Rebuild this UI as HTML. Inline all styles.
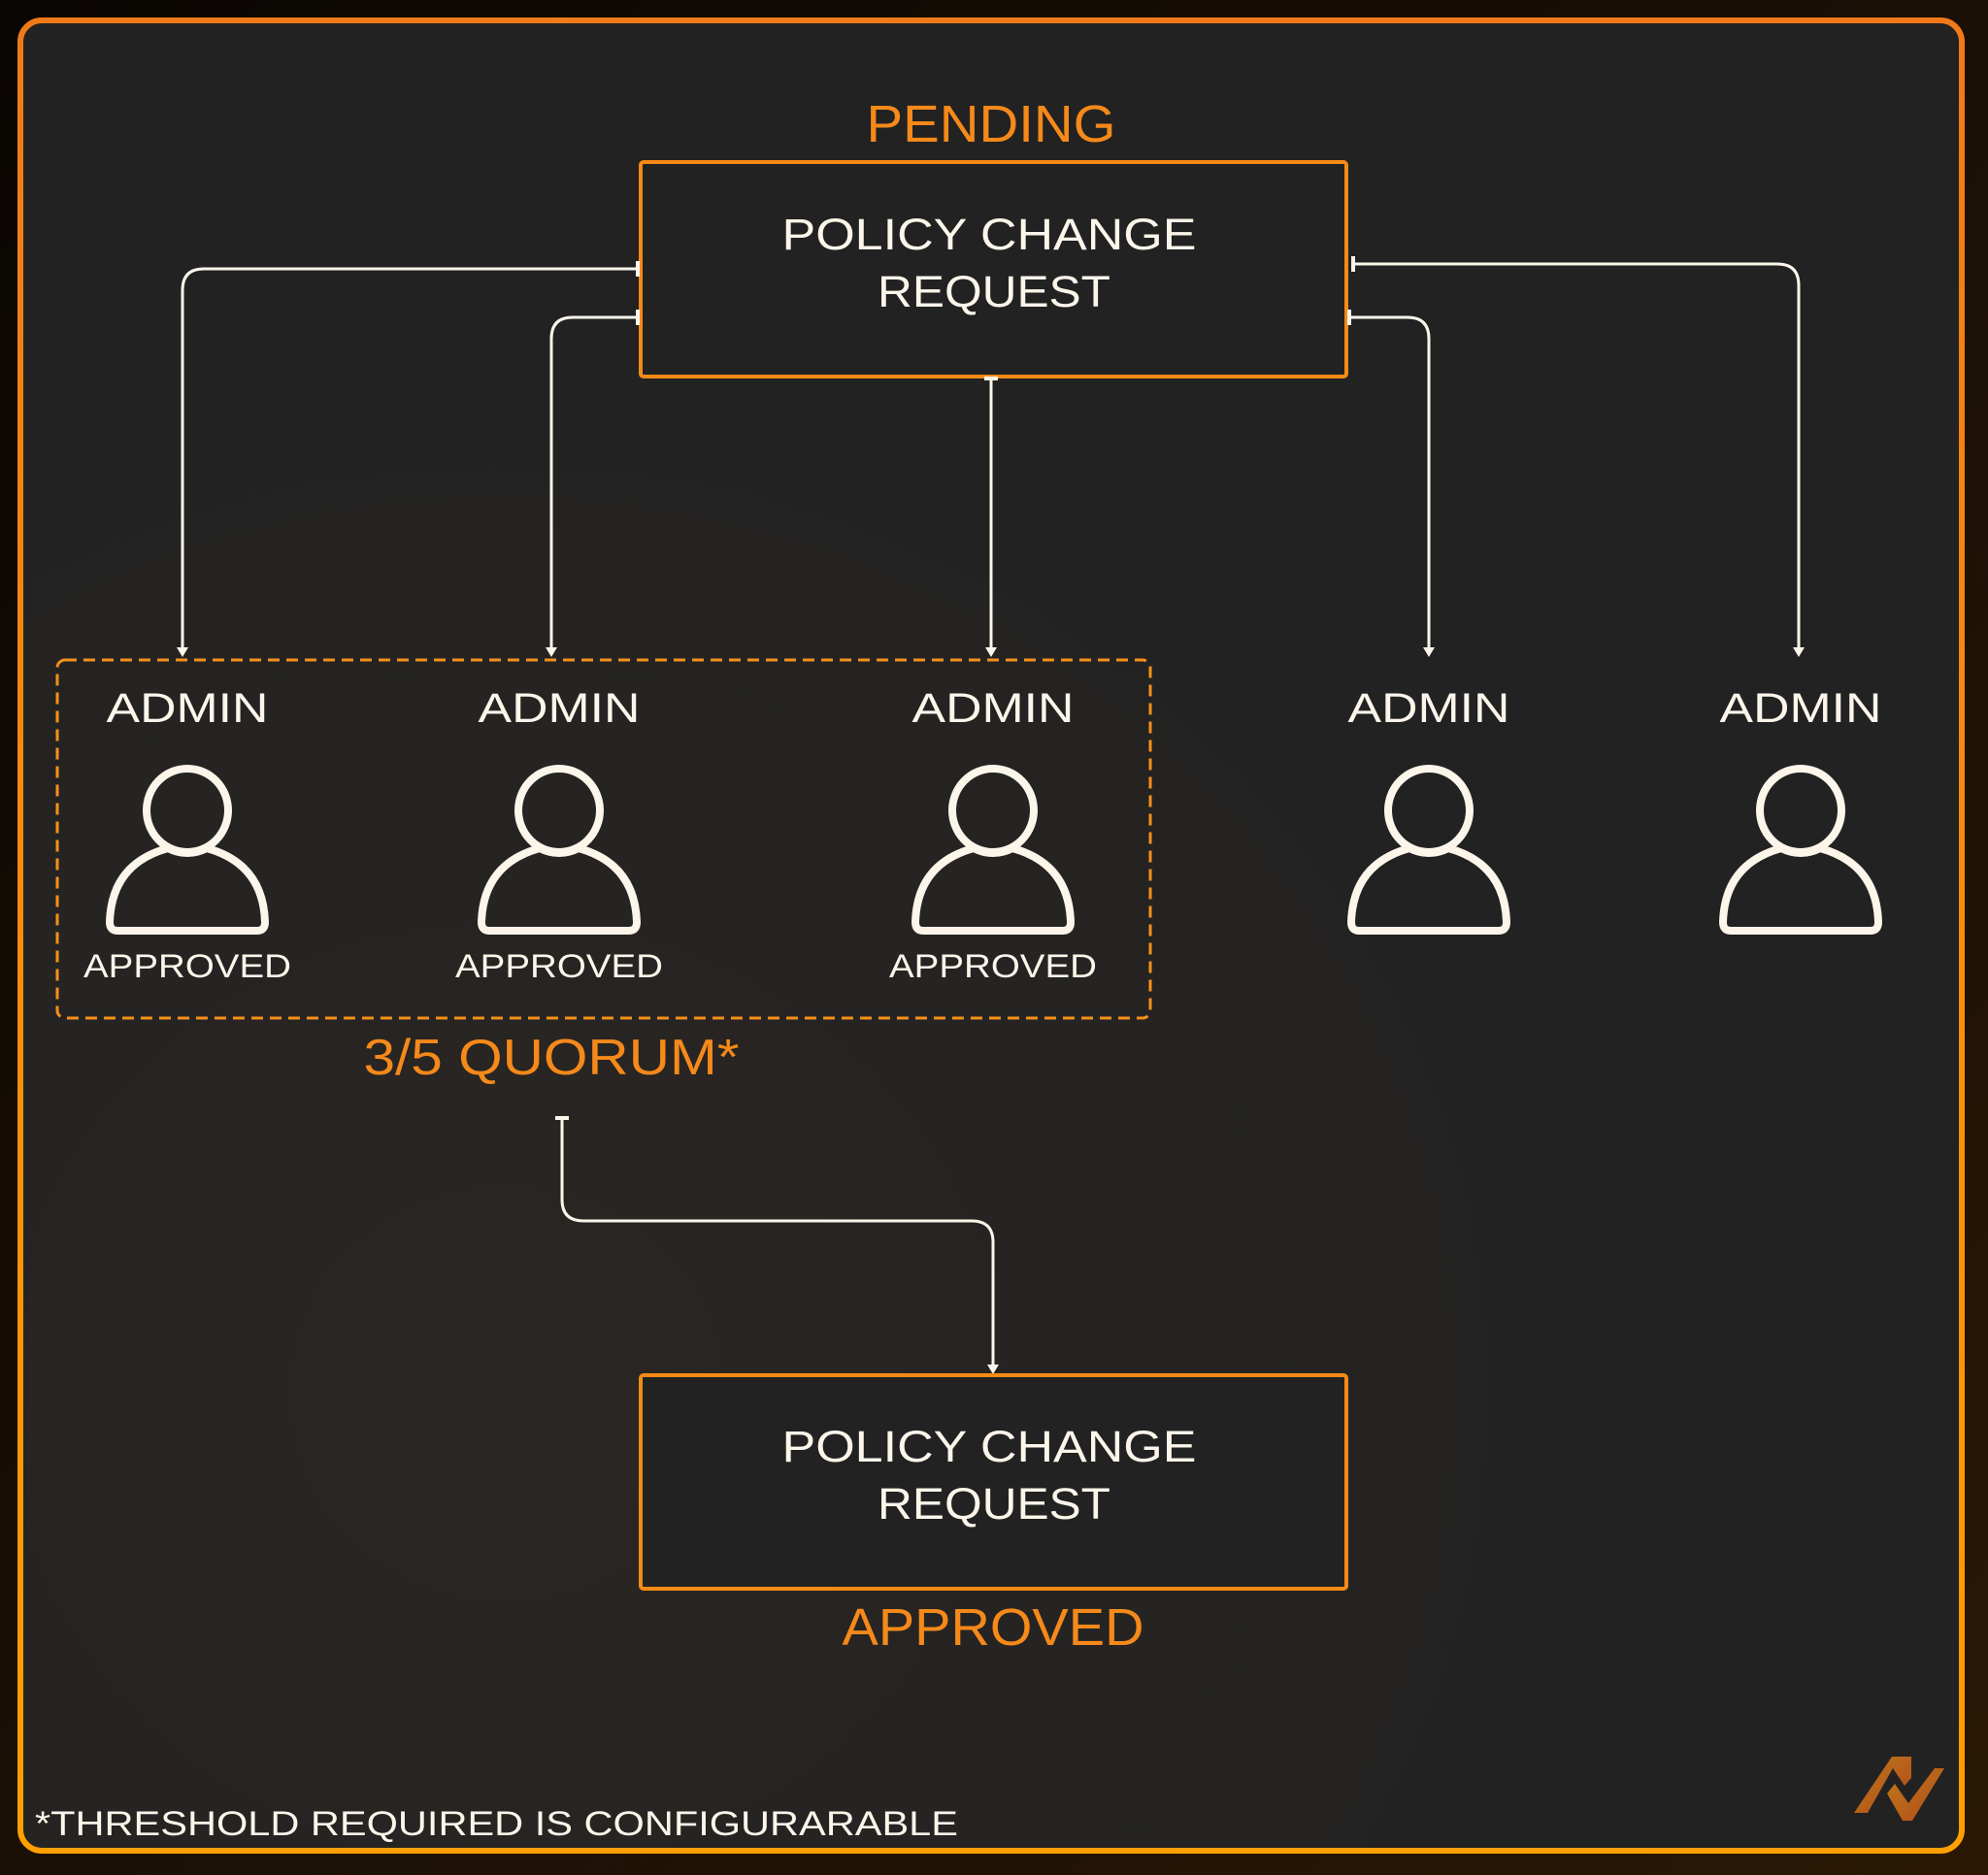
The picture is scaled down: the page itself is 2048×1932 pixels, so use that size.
<!DOCTYPE html>
<html><head><meta charset="utf-8"><style>
html,body{margin:0;padding:0;background:#000;}
svg{display:block;}
text{font-family:"Liberation Sans",sans-serif;}
</style></head><body>
<svg width="2048" height="1932" viewBox="0 0 2048 1932" xmlns="http://www.w3.org/2000/svg">
<defs>
<linearGradient id="bgo" x1="0" y1="0" x2="1" y2="1">
<stop offset="0" stop-color="#0a0603"/><stop offset="0.5" stop-color="#1a1006"/><stop offset="1" stop-color="#2a1804"/>
</linearGradient>
<radialGradient id="glow" cx="0.25" cy="0.75" r="0.6">
<stop offset="0" stop-color="#2a2623"/><stop offset="1" stop-color="#222"/>
</radialGradient>
<linearGradient id="bord" x1="0" y1="0" x2="0" y2="1">
<stop offset="0" stop-color="#f07a18"/><stop offset="1" stop-color="#ff9f00"/>
</linearGradient>
<linearGradient id="logo" x1="0" y1="0" x2="1" y2="1">
<stop offset="0" stop-color="#c07a1a"/><stop offset="1" stop-color="#b04a1a"/>
</linearGradient>
</defs>
<rect width="2048" height="1932" fill="url(#bgo)"/>
<rect x="21" y="21" width="2000" height="1886" rx="22" fill="url(#glow)" stroke="url(#bord)" stroke-width="6"/>

<g lengthAdjust="spacingAndGlyphs">
<text x="1021" y="146" font-size="54" fill="#f5891a" text-anchor="middle" textLength="257" lengthAdjust="spacingAndGlyphs">PENDING</text>
</g>
<rect x="660" y="167" width="727" height="221" rx="3" fill="#222" stroke="#f58a16" stroke-width="4"/>
<text x="1019" y="257" font-size="45" fill="#fbf5ea" text-anchor="middle" textLength="427" lengthAdjust="spacingAndGlyphs">POLICY CHANGE</text>
<text x="1024" y="316" font-size="45" fill="#fbf5ea" text-anchor="middle" textLength="240" lengthAdjust="spacingAndGlyphs">REQUEST</text>

<g fill="none" stroke="#fbf5ea" stroke-width="3">
<path d="M657 277 H210 Q188 277 188 299 V668"/>
<path d="M657 327 H590 Q568 327 568 349 V668"/>
<path d="M1021 390 V668"/>
<path d="M1390 327 H1450 Q1472 327 1472 349 V668"/>
<path d="M1394 272 H1831 Q1853 272 1853 294 V668"/>
<path d="M579 1152 V1236 Q579 1258 601 1258 H1001 Q1023 1258 1023 1280 V1408"/>
<path d="M657 269 V285 M657 319 V335 M1390 319 V335 M1394 264 V280 M1014 390 H1028 M572 1152 H586" stroke-width="4"/>
</g>
<g fill="#fbf5ea">
<path d="M182 667 L194 667 L188 677 Z"/>
<path d="M562 667 L574 667 L568 677 Z"/>
<path d="M1015 667 L1027 667 L1021 677 Z"/>
<path d="M1466 667 L1478 667 L1472 677 Z"/>
<path d="M1847 667 L1859 667 L1853 677 Z"/>
<path d="M1017 1406 L1029 1406 L1023 1416 Z"/>
</g>

<rect x="59" y="680" width="1126" height="369" rx="8" fill="none" stroke="#f5901a" stroke-width="3" stroke-dasharray="12 7"/>

<g font-size="43" fill="#fbf5ea" text-anchor="middle">
<text x="193" y="744" textLength="167" lengthAdjust="spacingAndGlyphs">ADMIN</text>
<text x="576" y="744" textLength="167" lengthAdjust="spacingAndGlyphs">ADMIN</text>
<text x="1023" y="744" textLength="167" lengthAdjust="spacingAndGlyphs">ADMIN</text>
<text x="1472" y="744" textLength="167" lengthAdjust="spacingAndGlyphs">ADMIN</text>
<text x="1855" y="744" textLength="167" lengthAdjust="spacingAndGlyphs">ADMIN</text>
</g>
<g fill="none" stroke="#fbf5ea" stroke-width="8" stroke-linejoin="round">
<g id="p1" transform="translate(193,0)">
<ellipse cx="0" cy="835" rx="42" ry="43"/>
<path d="M-20 874 Q-78 890 -80 950 Q-80 959 -72 959 H72 Q80 959 80 950 Q78 890 20 874 Q0 884 -20 874 Z"/>
</g>
<use href="#p1" transform="translate(383,0)"/>
<use href="#p1" transform="translate(830,0)"/>
<use href="#p1" transform="translate(1279,0)"/>
<use href="#p1" transform="translate(1662,0)"/>
</g>
<g font-size="34" fill="#fbf5ea" text-anchor="middle">
<text x="193" y="1007" textLength="214" lengthAdjust="spacingAndGlyphs">APPROVED</text>
<text x="576" y="1007" textLength="214" lengthAdjust="spacingAndGlyphs">APPROVED</text>
<text x="1023" y="1007" textLength="214" lengthAdjust="spacingAndGlyphs">APPROVED</text>
</g>
<text x="568" y="1107" font-size="52" fill="#f5891a" text-anchor="middle" textLength="387" lengthAdjust="spacingAndGlyphs">3/5 QUORUM*</text>

<rect x="660" y="1417" width="727" height="220" rx="3" fill="#222" stroke="#f58a16" stroke-width="4"/>
<text x="1019" y="1506" font-size="45" fill="#fbf5ea" text-anchor="middle" textLength="427" lengthAdjust="spacingAndGlyphs">POLICY CHANGE</text>
<text x="1024" y="1565" font-size="45" fill="#fbf5ea" text-anchor="middle" textLength="240" lengthAdjust="spacingAndGlyphs">REQUEST</text>
<text x="1023" y="1695" font-size="54" fill="#f5891a" text-anchor="middle" textLength="311" lengthAdjust="spacingAndGlyphs">APPROVED</text>

<text x="36" y="1891" font-size="35" fill="#fbf5ea" textLength="951" lengthAdjust="spacingAndGlyphs">*THRESHOLD REQUIRED IS CONFIGURARABLE</text>

<g fill="url(#logo)">
<path d="M1910 1868 L1949 1810 L1969 1810 L1969 1832 L1962 1840 L1950 1822 L1924 1868 Z"/>
<path d="M1944 1848 L1952 1838 L1966 1858 L1993 1822 L2003 1822 L1970 1876 L1960 1876 Z"/>
</g>
</svg>
</body></html>
